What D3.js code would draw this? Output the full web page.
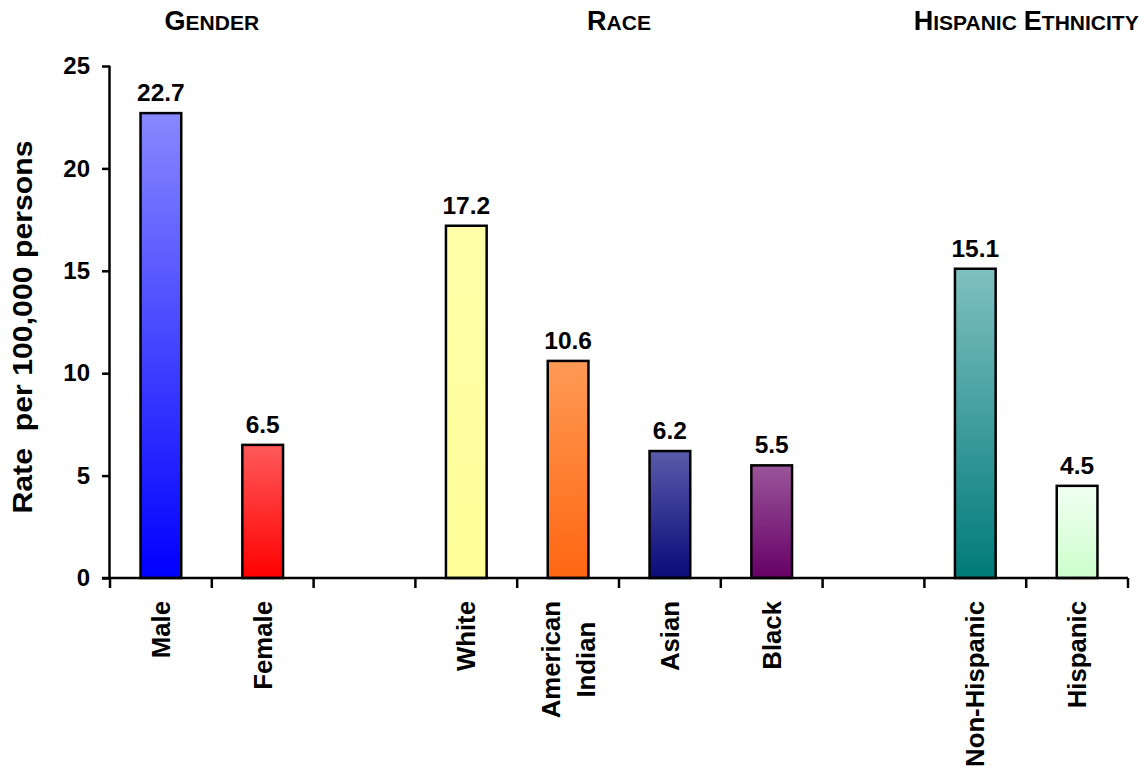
<!DOCTYPE html>
<html>
<head>
<meta charset="utf-8">
<script src="https://cdn.jsdelivr.net/npm/d3@7"></script>
<style>
  html, body { margin: 0; padding: 0; background: #fff; }
  svg text { font-family: "Liberation Sans", Arial, sans-serif; font-weight: bold; fill: #000; }
</style>
</head>
<body>
<svg id="chart" width="1148" height="774"></svg>
<script>
// ---- data ----
const slots = ["Male", "Female", "gap1", "White", "American Indian", "Asian", "Black", "gap2", "Non-Hispanic", "Hispanic"];
const categories = ["Male", "Female", "White", "American Indian", "Asian", "Black", "Non-Hispanic", "Hispanic"];
const values = [22.7, 6.5, 17.2, 10.6, 6.2, 5.5, 15.1, 4.5];
const valueLabels = ["22.7", "6.5", "17.2", "10.6", "6.2", "5.5", "15.1", "4.5"];
const categoryLines = [["Male"], ["Female"], ["White"], ["American", "Indian"], ["Asian"], ["Black"], ["Non-Hispanic"], ["Hispanic"]];
const groups = ["Gender", "Race", "Hispanic Ethnicity"];
const groupMembers = [["Male", "Female"], ["White", "American Indian", "Asian", "Black"], ["Non-Hispanic", "Hispanic"]];
const yTicks = [0, 5, 10, 15, 20, 25];
const yTitle = "Rate  per 100,000 persons";
const colorTop = ["#8888ff", "#ff5a5a", "#ffffaa", "#ff9a55", "#5a5aaa", "#9a559a", "#80c0c0", "#f2fff2"];
const colorBottom = ["#0000ff", "#ff0000", "#ffff99", "#ff6611", "#0a0a7a", "#660066", "#007a7a", "#ccffcc"];

// ---- layout ----
const svg = d3.select("#chart");
const margin = { left: 110 };
const x = d3.scaleBand().domain(slots).range([margin.left, 1128]).paddingInner(0).paddingOuter(0);
const y = d3.scaleLinear().domain([0, 25]).range([578, 66]);
const barW = x.bandwidth() * 0.4;

// gradients
const defs = svg.append("defs");
categories.forEach((c, i) => {
  const g = defs.append("linearGradient").attr("id", "grad" + i)
    .attr("x1", 0).attr("y1", 0).attr("x2", 0).attr("y2", 1);
  g.append("stop").attr("offset", "0%").attr("stop-color", colorTop[i]);
  g.append("stop").attr("offset", "100%").attr("stop-color", colorBottom[i]);
});

// bars
svg.append("g").selectAll("rect").data(categories).join("rect")
  .attr("x", (d) => x(d) + (x.bandwidth() - barW) / 2)
  .attr("y", (d, i) => y(values[i]))
  .attr("width", barW)
  .attr("height", (d, i) => y(0) - y(values[i]))
  .attr("fill", (d, i) => `url(#grad${i})`)
  .attr("stroke", "#000")
  .attr("stroke-width", 2.5);

// value labels
svg.append("g").selectAll("text").data(categories).join("text")
  .attr("x", (d) => x(d) + x.bandwidth() / 2)
  .attr("y", (d, i) => y(values[i]) - 12)
  .attr("text-anchor", "middle")
  .style("font-size", "24.5px")
  .text((d, i) => valueLabels[i]);

// y axis
const yAxis = svg.append("g").attr("transform", `translate(${margin.left},0)`)
  .call(d3.axisLeft(y).tickValues(yTicks).tickSize(8).tickPadding(12).tickFormat(d3.format("d")));
yAxis.select(".domain").attr("stroke", "#000").attr("stroke-width", 2.5).attr("d", `M-0.5,${y(0)}V${y(25)}`);
yAxis.selectAll(".tick line").attr("stroke", "#000").attr("stroke-width", 2.5);
yAxis.selectAll(".tick text").style("font-size", "24px").attr("fill", "#000")
  .style("font-family", '"Liberation Sans", Arial, sans-serif').style("font-weight", "bold");

// x axis: line with ticks at slot boundaries
const boundaries = slots.map((s) => x(s)).concat([x(slots[slots.length - 1]) + x.bandwidth()]);
svg.append("line").attr("x1", margin.left - 8).attr("x2", boundaries[boundaries.length - 1])
  .attr("y1", y(0)).attr("y2", y(0)).attr("stroke", "#000").attr("stroke-width", 2.5);
svg.append("g").selectAll("line").data(boundaries).join("line")
  .attr("x1", (d) => d).attr("x2", (d) => d)
  .attr("y1", y(0)).attr("y2", y(0) + 10)
  .attr("stroke", "#000").attr("stroke-width", 2.5);

// x labels (rotated)
const labelTop = 601;
const stretch = 1.03;
const xl = svg.append("g");
categories.forEach((c, i) => {
  const lines = categoryLines[i];
  const cx = x(c) + x.bandwidth() / 2;
  const lineGap = 35;
  lines.forEach((ln, j) => {
    const off = (j - (lines.length - 1) / 2) * lineGap;
    const t = xl.append("text")
      .style("font-size", "25px")
      .attr("dy", "0.36em")
      .attr("text-anchor", "middle")
      .text(ln);
    const len = t.node().getComputedTextLength();
    t.attr("data-len", len).attr("data-off", off).attr("data-cx", cx).attr("data-grp", i);
  });
});
categories.forEach((c, i) => {
  const ts = xl.selectAll("text").filter(function () { return +this.getAttribute("data-grp") === i; });
  const maxLen = d3.max(ts.nodes(), (n) => +n.getAttribute("data-len")) * stretch;
  ts.each(function () {
    const off = +this.getAttribute("data-off");
    const cx = +this.getAttribute("data-cx");
    d3.select(this).attr("transform", `translate(${cx + off},${labelTop + maxLen / 2}) rotate(-90) scale(${stretch},1)`);
  });
});

// y title
svg.append("text")
  .attr("transform", `translate(22,${(y(0) + y(25)) / 2 + 5}) rotate(-90) scale(1.12,1)`)
  .attr("text-anchor", "middle")
  .attr("dy", "0.36em")
  .style("font-size", "27px")
  .style("white-space", "pre")
  .text(yTitle);

// group titles in small caps
groups.forEach((g, i) => {
  const mem = groupMembers[i];
  const x0 = x(mem[0]);
  const x1 = x(mem[mem.length - 1]) + x.bandwidth();
  const t = svg.append("text")
    .attr("x", (x0 + x1) / 2)
    .attr("y", 30)
    .attr("text-anchor", "middle");
  g.split(" ").forEach((word, k) => {
    if (k > 0) t.append("tspan").style("font-size", "25px").text(" ");
    t.append("tspan").style("font-size", "27px").text(word[0].toUpperCase());
    t.append("tspan").style("font-size", "21px").text(word.slice(1).toUpperCase());
  });
});
</script>
</body>
</html>
